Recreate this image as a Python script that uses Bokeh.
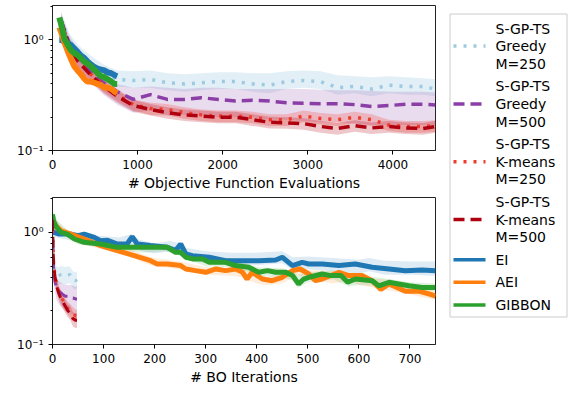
from bokeh.plotting import figure
from bokeh.layouts import row, column
from bokeh.models import FixedTicker, Range1d
from bokeh.core.properties import value
from bokeh.embed import file_html
from bokeh.resources import INLINE

# ---------------- data: top panel (objective function evaluations) ----------------
sgp_evals = [100, 200, 300, 450, 600, 760, 950, 1150, 1350, 1550, 1750, 1950, 2150, 2350,
             2550, 2750, 2950, 3150, 3350, 3550, 3750, 3950, 4150, 4350, 4500]
top_g250 = [1.50, 0.95, 0.75, 0.60, 0.50, 0.44, 0.43, 0.44, 0.41, 0.40, 0.41, 0.42, 0.42, 0.40,
            0.39, 0.42, 0.43, 0.42, 0.37, 0.38, 0.36, 0.39, 0.38, 0.38, 0.36]
top_g250_hi = [1.80, 1.14, 0.90, 0.72, 0.60, 0.53, 0.52, 0.53, 0.50, 0.49, 0.50, 0.51, 0.51, 0.50,
               0.50, 0.52, 0.53, 0.52, 0.48, 0.47, 0.46, 0.47, 0.46, 0.45, 0.44]
top_g250_lo = [1.25, 0.80, 0.64, 0.51, 0.43, 0.38, 0.37, 0.37, 0.35, 0.34, 0.35, 0.36, 0.36, 0.34,
               0.33, 0.36, 0.37, 0.36, 0.32, 0.33, 0.31, 0.33, 0.32, 0.32, 0.31]
top_g500 = [1.50, 0.92, 0.70, 0.52, 0.41, 0.34, 0.29, 0.32, 0.29, 0.29, 0.30, 0.29, 0.28, 0.285,
            0.28, 0.27, 0.267, 0.265, 0.265, 0.26, 0.25, 0.255, 0.262, 0.262, 0.258]
top_g500_hi = [1.75, 1.08, 0.82, 0.62, 0.48, 0.40, 0.37, 0.38, 0.37, 0.36, 0.37, 0.37, 0.36, 0.36,
               0.36, 0.36, 0.36, 0.355, 0.35, 0.35, 0.345, 0.34, 0.34, 0.34, 0.335]
top_g500_lo = [1.25, 0.76, 0.56, 0.41, 0.32, 0.26, 0.22, 0.23, 0.21, 0.21, 0.21, 0.20, 0.20, 0.20,
               0.19, 0.19, 0.185, 0.18, 0.18, 0.175, 0.17, 0.17, 0.17, 0.17, 0.168]
top_k250 = [1.45, 0.88, 0.65, 0.49, 0.39, 0.32, 0.26, 0.24, 0.235, 0.22, 0.21, 0.205, 0.205, 0.20,
            0.19, 0.19, 0.205, 0.195, 0.19, 0.20, 0.19, 0.17, 0.165, 0.165, 0.168]
top_k250_hi = [1.62, 0.99, 0.73, 0.55, 0.44, 0.36, 0.29, 0.27, 0.263, 0.246, 0.235, 0.23, 0.23, 0.224,
               0.213, 0.213, 0.23, 0.218, 0.213, 0.224, 0.213, 0.19, 0.185, 0.185, 0.188]
top_k250_lo = [1.28, 0.77, 0.57, 0.43, 0.34, 0.28, 0.23, 0.21, 0.207, 0.194, 0.185, 0.18, 0.18, 0.176,
               0.167, 0.167, 0.18, 0.172, 0.167, 0.176, 0.167, 0.15, 0.145, 0.145, 0.148]
top_k500 = [1.50, 0.86, 0.64, 0.48, 0.38, 0.31, 0.255, 0.235, 0.22, 0.21, 0.205, 0.20, 0.20, 0.19,
            0.18, 0.178, 0.175, 0.165, 0.158, 0.168, 0.16, 0.165, 0.16, 0.158, 0.165]
top_k500_hi = [1.68, 0.96, 0.72, 0.54, 0.43, 0.35, 0.286, 0.263, 0.246, 0.235, 0.23, 0.224, 0.224, 0.213,
               0.202, 0.20, 0.196, 0.185, 0.177, 0.188, 0.179, 0.185, 0.179, 0.177, 0.185]
top_k500_lo = [1.32, 0.76, 0.56, 0.42, 0.33, 0.27, 0.224, 0.207, 0.194, 0.185, 0.18, 0.176, 0.176, 0.167,
               0.158, 0.157, 0.154, 0.145, 0.139, 0.148, 0.141, 0.145, 0.141, 0.139, 0.145]

bo_evals = [80, 100, 140, 180, 215, 255, 295, 335, 370, 410, 450, 490, 530, 570, 610, 650, 690, 730, 760]
top_ei = [1.00, 1.00, 0.97, 0.93, 0.90, 0.84, 0.78, 0.72, 0.69, 0.64, 0.60, 0.57, 0.55, 0.54, 0.53,
          0.51, 0.50, 0.48, 0.47]
top_aei = [1.30, 1.19, 0.95, 0.79, 0.68, 0.58, 0.53, 0.49, 0.45, 0.42, 0.42, 0.41, 0.40, 0.39, 0.37,
           0.37, 0.36, 0.34, 0.33]
top_gibbon = [1.60, 1.40, 1.03, 0.90, 0.81, 0.76, 0.73, 0.68, 0.64, 0.61, 0.58, 0.54, 0.50, 0.47, 0.46,
              0.44, 0.42, 0.40, 0.40]

# ---------------- data: bottom panel (BO iterations) ----------------
sgp_iters = [0, 1, 2, 3, 5, 8, 12, 16, 20, 25, 30, 35, 40, 45, 48]
bot_g250 = [1.10, 0.70, 0.55, 0.48, 0.44, 0.42, 0.41, 0.42, 0.42, 0.41, 0.42, 0.42, 0.38, 0.37, 0.38]
bot_g250_hi = [1.30, 0.82, 0.65, 0.56, 0.52, 0.50, 0.49, 0.50, 0.50, 0.49, 0.50, 0.49, 0.45, 0.44, 0.45]
bot_g250_lo = [0.95, 0.60, 0.47, 0.41, 0.37, 0.35, 0.34, 0.35, 0.35, 0.34, 0.35, 0.35, 0.32, 0.31, 0.32]
bot_g500 = [1.20, 0.70, 0.50, 0.42, 0.36, 0.32, 0.30, 0.29, 0.28, 0.27, 0.27, 0.26, 0.26, 0.255, 0.255]
bot_g500_hi = [1.40, 0.82, 0.60, 0.50, 0.43, 0.39, 0.37, 0.36, 0.35, 0.34, 0.34, 0.34, 0.335, 0.33, 0.33]
bot_g500_lo = [1.00, 0.58, 0.41, 0.34, 0.29, 0.25, 0.23, 0.22, 0.21, 0.20, 0.195, 0.19, 0.185, 0.18, 0.18]
bot_k250 = [1.30, 0.78, 0.58, 0.50, 0.42, 0.35, 0.30, 0.27, 0.25, 0.23, 0.21, 0.20, 0.19, 0.18, 0.18]
bot_k250_hi = [1.45, 0.88, 0.66, 0.57, 0.48, 0.40, 0.34, 0.31, 0.285, 0.26, 0.24, 0.23, 0.215, 0.205, 0.205]
bot_k250_lo = [1.15, 0.69, 0.51, 0.44, 0.37, 0.31, 0.265, 0.24, 0.22, 0.20, 0.185, 0.175, 0.165, 0.158, 0.158]
bot_k500 = [1.30, 0.75, 0.55, 0.47, 0.40, 0.33, 0.29, 0.26, 0.24, 0.22, 0.20, 0.19, 0.17, 0.165, 0.165]
bot_k500_hi = [1.45, 0.85, 0.63, 0.54, 0.46, 0.38, 0.33, 0.30, 0.28, 0.25, 0.23, 0.22, 0.195, 0.19, 0.19]
bot_k500_lo = [1.15, 0.66, 0.48, 0.41, 0.35, 0.29, 0.25, 0.225, 0.21, 0.19, 0.175, 0.165, 0.145, 0.14, 0.14]

ei_iters = [0, 3, 13, 33, 50, 62, 82, 94, 108, 127, 146, 156, 166, 192, 225, 241, 251, 261, 274,
            307, 339, 372, 404, 437, 450, 470, 489, 502, 528, 561, 593, 626, 659, 691, 724, 750]
bot_ei = [1.0, 1.0, 0.967, 0.967, 0.935, 0.967, 0.904, 0.844, 0.85, 0.789, 0.789, 0.917, 0.789,
          0.763, 0.736, 0.688, 0.789, 0.642, 0.62, 0.60, 0.56, 0.56, 0.56, 0.568, 0.60, 0.506,
          0.541, 0.523, 0.523, 0.506, 0.523, 0.489, 0.472, 0.456, 0.462, 0.456]
aei_iters = [0, 3, 17, 36, 62, 94, 127, 160, 192, 205, 225, 251, 261, 280, 300, 320, 339, 359,
             372, 381, 391, 411, 430, 450, 470, 485, 502, 515, 528, 561, 580, 606, 626, 643, 659,
             691, 717, 743, 750]
bot_aei = [1.30, 1.19, 1.035, 0.967, 0.874, 0.763, 0.688, 0.62, 0.56, 0.523, 0.523, 0.506, 0.472,
           0.456, 0.441, 0.472, 0.456, 0.472, 0.441, 0.384, 0.441, 0.384, 0.371, 0.398, 0.456,
           0.472, 0.426, 0.371, 0.384, 0.441, 0.412, 0.412, 0.371, 0.31, 0.347, 0.299, 0.299,
           0.278, 0.269]
gib_iters = [0, 2, 8, 17, 29, 43, 62, 94, 127, 160, 192, 225, 241, 251, 261, 274, 294, 307, 339,
             358, 384, 404, 421, 437, 457, 470, 482, 492, 502, 528, 545, 565, 578, 593, 626, 639,
             659, 678, 698, 724, 750]
bot_gibbon = [1.45, 1.27, 1.11, 1.0, 0.967, 0.874, 0.816, 0.789, 0.736, 0.736, 0.736, 0.736, 0.664,
              0.664, 0.60, 0.58, 0.58, 0.541, 0.541, 0.506, 0.489, 0.441, 0.456, 0.441, 0.441,
              0.412, 0.347, 0.384, 0.398, 0.426, 0.412, 0.412, 0.359, 0.384, 0.371, 0.334, 0.359,
              0.347, 0.334, 0.322, 0.322]

band_iters_ei = [0, 20, 50, 80, 100, 130, 155, 170, 200, 230, 250, 260, 300, 350, 400, 450, 470, 500,
                 550, 600, 620, 650, 700, 750]
bot_ei_hi = [1.10, 1.06, 1.00, 0.94, 0.93, 0.90, 0.97, 0.86, 0.80, 0.84, 0.80, 0.73, 0.68, 0.66,
             0.66, 0.68, 0.60, 0.61, 0.59, 0.57, 0.59, 0.56, 0.55, 0.55]
bot_ei_lo = [0.92, 0.88, 0.82, 0.77, 0.76, 0.73, 0.79, 0.69, 0.65, 0.68, 0.63, 0.59, 0.53, 0.51,
             0.51, 0.53, 0.46, 0.47, 0.45, 0.43, 0.45, 0.42, 0.42, 0.41]
band_iters_aei = [0, 20, 50, 100, 150, 180, 200, 250, 300, 350, 370, 400, 420, 450, 480, 500, 550,
                  580, 600, 650, 700, 750]
bot_aei_hi = [1.37, 1.12, 0.94, 0.82, 0.72, 0.63, 0.59, 0.55, 0.49, 0.48, 0.53, 0.43, 0.40, 0.43,
              0.51, 0.46, 0.45, 0.44, 0.40, 0.38, 0.33, 0.30]
bot_aei_lo = [1.17, 0.95, 0.80, 0.70, 0.61, 0.53, 0.50, 0.47, 0.42, 0.41, 0.40, 0.35, 0.34, 0.35,
              0.42, 0.38, 0.35, 0.37, 0.34, 0.31, 0.28, 0.25]
band_iters_gib = [0, 10, 30, 50, 100, 150, 180, 220, 250, 280, 300, 350, 380, 400, 450, 470, 480,
                  500, 550, 580, 600, 650, 700, 750]
bot_gibbon_hi = [1.57, 1.28, 1.04, 0.91, 0.85, 0.79, 0.79, 0.79, 0.72, 0.63, 0.60, 0.59, 0.53, 0.49,
                 0.48, 0.45, 0.42, 0.44, 0.46, 0.42, 0.41, 0.39, 0.36, 0.35]
bot_gibbon_lo = [1.35, 1.10, 0.90, 0.78, 0.73, 0.68, 0.66, 0.68, 0.62, 0.54, 0.50, 0.49, 0.45, 0.41,
                 0.40, 0.37, 0.32, 0.36, 0.38, 0.33, 0.34, 0.33, 0.31, 0.30]

labels = ["S-GP-TS\nGreedy\nM=250", "S-GP-TS\nGreedy\nM=500", "S-GP-TS\nK-means\nM=250",
          "S-GP-TS\nK-means\nM=500", "EI", "AEI", "GIBBON"]
top_xticks = [0, 1000, 2000, 3000, 4000]
bot_xticks = [0, 100, 200, 300, 400, 500, 600, 700]
y_major = [0.1, 1.0]
y_minor = [0.2, 0.3, 0.4, 0.5, 0.6, 0.7, 0.8, 0.9, 2.0]

# ---------------- styles ----------------
C_G250 = "#9ecae1"
C_G500 = "#8a3ea6"
C_K250 = "#ef3b2c"
C_K500 = "#b00010"
C_EI = "#1f77b4"
C_AEI = "#ff7f0e"
C_GIB = "#2ca02c"
DOT = "3 7"
DASH = "11 6"
FONT = "DejaVu Sans"


def style(p, xticks, xlabel):
    p.xaxis.ticker = FixedTicker(ticks=xticks)
    p.yaxis.ticker = FixedTicker(ticks=y_major, minor_ticks=y_minor)
    p.yaxis.major_label_overrides = {0.1: "10\u207b\u00b9", 1: "10\u2070", 1.0: "10\u2070"}
    p.xaxis.axis_label = xlabel
    p.grid.visible = False
    p.outline_line_color = "#222222"
    p.outline_line_width = 1
    for ax in (p.xaxis[0], p.yaxis[0]):
        ax.axis_line_color = "#222222"
        ax.major_tick_line_color = "black"
        ax.minor_tick_line_color = "black"
        ax.major_tick_in = 0
        ax.major_tick_out = 4
        ax.minor_tick_in = 0
        ax.minor_tick_out = 2
        ax.major_label_text_font = FONT
        ax.major_label_text_font_size = "12px"
        ax.major_label_text_color = "black"
        ax.axis_label_text_font = FONT
        ax.axis_label_text_font_size = "14px"
        ax.axis_label_text_font_style = "normal"
        ax.axis_label_text_color = "black"
    p.xaxis.minor_tick_line_color = None
    p.xaxis.axis_label_standoff = 3
    p.xaxis.major_label_standoff = 5


p1 = figure(width=436, height=193, y_axis_type="log", x_range=Range1d(0, 4500),
            y_range=Range1d(0.1, 2.05), output_backend="svg", toolbar_location=None,
            min_border_left=52, min_border_right=1, min_border_top=5, min_border_bottom=41)
style(p1, top_xticks, "# Objective Function Evaluations")

top_sgp = [(top_g250, top_g250_lo, top_g250_hi, C_G250, DOT, 0.3),
           (top_g500, top_g500_lo, top_g500_hi, C_G500, DASH, 0.18),
           (top_k250, top_k250_lo, top_k250_hi, C_K250, DOT, 0.25),
           (top_k500, top_k500_lo, top_k500_hi, C_K500, DASH, 0.22)]
for vals, lo, hi, col, dash, a in top_sgp:
    p1.varea(x=sgp_evals, y1=lo, y2=hi, fill_color=col, fill_alpha=a)
for vals, lo, hi, col, dash, a in top_sgp:
    p1.line(sgp_evals, vals, line_color=col, line_width=3.5, line_dash=dash)
for vals, col in [(top_ei, C_EI), (top_aei, C_AEI), (top_gibbon, C_GIB)]:
    p1.line(bo_evals, vals, line_color=col, line_width=6)

p2 = figure(width=436, height=194, y_axis_type="log", x_range=Range1d(0, 750),
            y_range=Range1d(0.1, 2.05), output_backend="svg", toolbar_location=None,
            min_border_left=52, min_border_right=1, min_border_top=4, min_border_bottom=42)
style(p2, bot_xticks, "# BO Iterations")

for xs, lo, hi, col in [(band_iters_ei, bot_ei_lo, bot_ei_hi, C_EI),
                        (band_iters_aei, bot_aei_lo, bot_aei_hi, C_AEI),
                        (band_iters_gib, bot_gibbon_lo, bot_gibbon_hi, C_GIB)]:
    p2.varea(x=xs, y1=lo, y2=hi, fill_color=col, fill_alpha=0.15)
for xs, vals, col in [(ei_iters, bot_ei, C_EI), (aei_iters, bot_aei, C_AEI),
                      (gib_iters, bot_gibbon, C_GIB)]:
    p2.line(xs, vals, line_color=col, line_width=5)

bot_sgp = [(bot_g250, bot_g250_lo, bot_g250_hi, C_G250, DOT, 0.3),
           (bot_g500, bot_g500_lo, bot_g500_hi, C_G500, DASH, 0.18),
           (bot_k250, bot_k250_lo, bot_k250_hi, C_K250, DOT, 0.25),
           (bot_k500, bot_k500_lo, bot_k500_hi, C_K500, DASH, 0.22)]
for vals, lo, hi, col, dash, a in bot_sgp:
    p2.varea(x=sgp_iters, y1=lo, y2=hi, fill_color=col, fill_alpha=a)
for vals, lo, hi, col, dash, a in bot_sgp:
    p2.line(sgp_iters, vals, line_color=col, line_width=3, line_dash=dash)

# ---------------- legend panel (drawn in a pixel-space figure) ----------------
LW, LH = 139, 330
pl = figure(width=LW, height=LH, x_range=Range1d(0, LW), y_range=Range1d(LH, 0),
            output_backend="svg", toolbar_location=None, x_axis_location=None,
            y_axis_location=None, min_border_left=0, min_border_top=0,
            min_border_right=0, min_border_bottom=0)
pl.grid.visible = False
pl.outline_line_color = None

box_l, box_r, box_t, box_b = 13.5, 130.5, 13.5, 316.5
pl.quad(left=[box_l], right=[box_r], top=[box_t], bottom=[box_b], fill_color="white",
        line_color="#cccccc", line_width=1)

styles = [(C_G250, DOT), (C_G500, DASH), (C_K250, DOT), (C_K500, DASH),
          (C_EI, "solid"), (C_AEI, "solid"), (C_GIB, "solid")]
glyph_x0, glyph_x1, text_x = 17, 49, 59
line_pitch, item_gap, single_pitch = 17.6, 22.6, 22.6
y = 28.0
tx, ty, tt = [], [], []
for lab, (col, dash) in zip(labels, styles):
    lines = lab.split("\n")
    n = len(lines)
    gy = y + line_pitch * (n - 1) / 2
    pl.line([glyph_x0, glyph_x1], [gy, gy], line_color=col, line_width=3.5, line_dash=dash)
    for k, t in enumerate(lines):
        tx.append(text_x)
        ty.append(y + k * line_pitch)
        tt.append(t)
    y += line_pitch * (n - 1) + (item_gap if n > 1 else single_pitch)
pl.text(x=tx, y=ty, text=tt, text_baseline="middle", text_align="left",
        text_font=value(FONT), text_font_size="14px", text_color="black")

layout = row(column(p1, p2), pl)
open("out.html", "w").write(file_html(layout, INLINE))
